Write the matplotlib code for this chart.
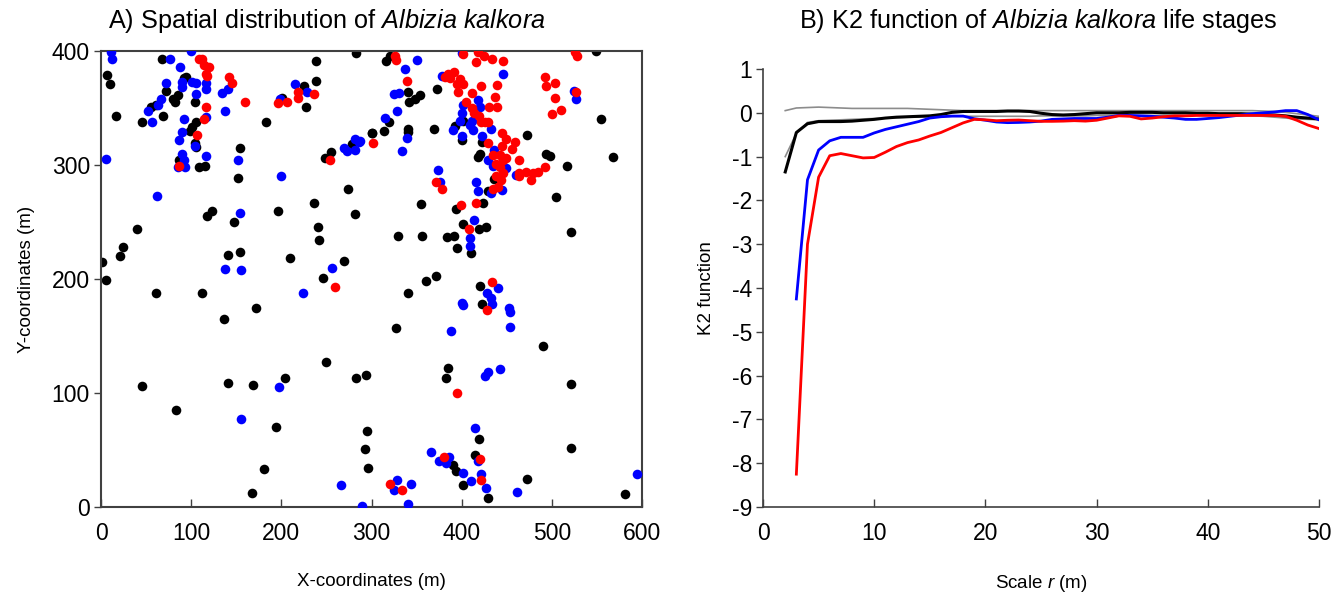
import matplotlib
matplotlib.use("Agg")
import matplotlib.pyplot as plt
import numpy as np

plt.rcParams['font.family'] = ['Liberation Sans', 'DejaVu Sans']
plt.rcParams['mathtext.fontset'] = 'custom'
plt.rcParams['mathtext.rm'] = 'Liberation Sans'
plt.rcParams['mathtext.it'] = 'Liberation Sans:italic'
plt.rcParams['axes.unicode_minus'] = False

# ---------------- Panel A data (x, y in m) ----------------
black_x = [68,7,10,92,94,72,85,80,82,104,61,56,69,17,45,105,101,99,104,105,86,109,115,154,152,183,238,238,225,227,201,283,300,278,255,248,274,236,196,282,123,118,
           549,316,320,341,348,342,354,373,301,314,319,340,341,369,393,402,400,422,418,420,472,493,498,517,554,568,505,436,429,424,355,394,
           40,24,21,1,6,61,112,147,141,154,241,242,210,269,246,329,356,360,372,341,384,391,395,401,419,427,410,420,521,
           172,136,327,423,490,250,283,294,385,383,204,141,169,46,521,83,194,295,293,296,419,415,390,394,402,429,472,521,581,181,167]
black_y = [393,379,371,376,377,365,361,358,355,355,353,351,343,343,338,338,333,330,319,316,304,298,299,315,289,338,391,374,369,351,359,398,328,318,311,306,279,267,260,257,260,255,
           400,391,396,364,358,355,361,367,328,330,338,332,329,332,334,339,322,320,307,310,326,310,308,299,340,307,272,288,277,267,266,261,
           244,228,220,215,199,188,188,250,221,224,246,234,218,216,201,238,238,198,203,188,237,238,227,248,244,246,223,194,241,
           175,165,157,178,141,127,113,116,122,113,113,109,107,106,108,85,70,67,51,34,60,46,37,32,19,8,25,52,11,33,12]

blue_x = [11,12,100,77,88,72,90,90,101,105,116,117,105,66,63,52,57,92,116,134,141,138,90,87,104,90,92,85,93,117,5,152,200,62,154,215,228,199,269,273,282,286,282,
          400,351,337,446,378,325,330,525,527,315,328,339,334,287,401,400,398,409,418,420,412,433,390,400,413,423,429,436,435,449,445,416,418,433,460,374,376,414,
          138,155,256,224,409,409,428,440,433,
          400,402,434,453,454,454,388,426,429,442,197,155,415,366,375,386,383,402,418,421,410,427,461,328,325,344,266,289,341,595]
blue_y = [399,393,400,393,386,372,373,368,373,372,372,367,362,358,353,347,338,340,342,363,367,347,329,322,317,310,304,298,298,308,305,304,290,273,258,371,364,358,315,312,323,320,313,
          398,392,384,380,378,362,363,365,358,341,347,324,312,321,353,346,339,335,357,351,339,332,331,325,331,325,304,313,299,297,278,285,277,275,291,296,285,252,
          209,208,210,188,236,229,188,192,183,
          179,177,178,175,171,158,154,115,118,121,105,77,69,48,40,44,39,30,40,29,23,17,13,24,15,20,19,1,3,29]

red_x = [109,112,114,120,116,118,142,145,160,117,114,106,87,196,206,218,219,236,254,302,
         326,327,401,418,425,434,416,446,526,528,339,385,392,387,398,402,395,396,382,421,439,437,430,439,411,492,504,494,504,500,510,527,
         405,411,414,419,421,426,429,445,449,445,459,456,429,435,442,446,438,442,449,446,438,444,440,435,464,464,471,479,485,492,477,464,371,378,399,416,
         260,408,434,428,395,380,420,421,320,334]
red_y = [393,393,388,386,380,378,377,372,355,351,340,326,299,354,355,364,359,362,304,319,
         396,392,397,399,396,393,390,391,399,396,374,380,382,376,375,371,371,364,377,369,370,360,351,351,363,377,372,369,359,345,348,364,
         355,350,346,343,338,338,338,328,323,317,320,314,319,309,309,304,301,298,306,293,290,287,281,279,304,293,294,293,294,298,287,290,285,279,265,267,
         193,244,197,173,100,44,42,24,20,15]

# ---------------- Panel B data ----------------
r = list(range(2, 51))
gray_upper = [0.05,0.11,0.12,0.13,0.12,0.11,0.10,0.10,0.10,0.10,0.10,0.10,0.09,0.08,0.07,0.06,0.05,
              0.05,0.05,0.05,0.05,0.05,0.05,0.05,0.05,0.05,0.05,0.05,0.05,0.05,0.05,0.05,0.05,0.05,0.05,
              0.05,0.05,0.05,0.05,0.05,0.05,0.05,0.05,0.04,0.03,0.01,-0.02,-0.05,-0.08]
gray_lower = [-1.00,-0.47,-0.22,-0.18,-0.17,-0.16,-0.15,-0.14,-0.13,-0.12,-0.11,-0.10,-0.10,-0.09,-0.09,-0.08,
              -0.08,-0.08,-0.08,-0.08,-0.08,-0.08,-0.08,-0.07,-0.07,-0.07,-0.07,-0.07,-0.06,-0.06,-0.06,-0.06,
              -0.06,-0.06,-0.06,-0.06,-0.06,-0.06,-0.06,-0.06,-0.06,-0.07,-0.07,-0.08,-0.10,-0.12,-0.14,-0.15,-0.16]
black_k2 = [-1.35,-0.45,-0.25,-0.20,-0.20,-0.20,-0.19,-0.17,-0.15,-0.12,-0.10,-0.09,-0.08,-0.07,-0.04,0.01,
            0.03,0.03,0.03,0.03,0.04,0.04,0.03,-0.01,-0.04,-0.05,-0.04,-0.02,0.00,0.00,0.00,0.01,0.01,0.01,
            0.00,0.00,0.00,-0.01,-0.01,-0.02,-0.02,-0.02,-0.03,-0.04,-0.05,-0.07,-0.10,-0.12,-0.14]
r3 = list(range(3, 51))
blue_k2 = [-4.25,-1.53,-0.85,-0.64,-0.56,-0.56,-0.56,-0.46,-0.38,-0.32,-0.26,-0.20,-0.12,-0.09,-0.075,-0.075,
           -0.135,-0.17,-0.21,-0.225,-0.22,-0.21,-0.19,-0.15,-0.14,-0.13,-0.13,-0.13,-0.10,-0.06,-0.06,-0.07,
           -0.08,-0.10,-0.12,-0.15,-0.15,-0.13,-0.11,-0.08,-0.05,-0.02,0.00,0.02,0.05,0.05,-0.04,-0.16]
red_k2 = [-8.25,-3.0,-1.47,-0.98,-0.93,-0.98,-1.03,-1.02,-0.90,-0.77,-0.68,-0.62,-0.53,-0.45,-0.34,-0.23,
          -0.15,-0.16,-0.18,-0.17,-0.165,-0.18,-0.195,-0.195,-0.19,-0.18,-0.19,-0.17,-0.12,-0.07,-0.08,-0.14,
          -0.12,-0.09,-0.07,-0.07,-0.06,-0.06,-0.06,-0.06,-0.06,-0.06,-0.06,-0.06,-0.08,-0.17,-0.28,-0.36]

fig = plt.figure(figsize=(13.44, 5.92), dpi=100)
TICK = 16.5
TITLE = 18.2

# Panel A
axA = fig.add_axes([101/1344, 1-507/592, 541/1344, 456/592])
ms = 48
axA.scatter(black_x, black_y, s=ms, c='black', linewidths=0, zorder=2)
axA.scatter(blue_x, blue_y, s=ms, c='#0000ff', linewidths=0, zorder=3)
axA.scatter(red_x, red_y, s=ms, c='#ff0000', linewidths=0, zorder=4)
axA.set_xlim(0, 600)
axA.set_ylim(0, 400)
axA.set_xticks([0, 100, 200, 300, 400, 500, 600])
axA.set_yticks([0, 100, 200, 300, 400])
for s in axA.spines.values():
    s.set_color('#404040')
    s.set_linewidth(1.5)
axA.tick_params(axis='x', direction='in', length=6, width=1, colors='#404040', labelcolor='black', labelsize=TICK, pad=11)
axA.tick_params(axis='y', direction='out', length=5, width=1, colors='#404040', labelcolor='black', labelsize=TICK, pad=3)
axA.set_xlabel('X-coordinates (m)', fontsize=13.5, labelpad=20)
axA.set_ylabel('Y-coordinates (m)', fontsize=13.5, labelpad=12)
fig.text(108/1344, 1-21/592, r'A) Spatial distribution of $\it{Albizia}$ $\it{kalkora}$',
         fontsize=TITLE, ha='left', va='center')

# Panel B
axB = fig.add_axes([763/1344, 1-507/592, 556/1344, 438/592])
axB.plot(r, gray_upper, color='#8c8c8c', lw=1.2, zorder=2)
axB.plot(r, gray_lower, color='#8c8c8c', lw=1.2, zorder=2)
axB.plot(r, black_k2, color='black', lw=2.2, zorder=3)
axB.plot(r3, blue_k2, color='#0000ff', lw=2.0, zorder=4)
axB.plot(r3, red_k2, color='#ff0000', lw=2.0, zorder=5)
axB.set_xlim(0, 50)
axB.set_ylim(-9, 1)
axB.set_xticks([0, 10, 20, 30, 40, 50])
axB.set_yticks(list(range(-9, 2)))
axB.spines['top'].set_visible(False)
axB.spines['right'].set_visible(False)
for s in ['left', 'bottom']:
    axB.spines[s].set_color('#404040')
    axB.spines[s].set_linewidth(1.2)
axB.tick_params(axis='x', direction='in', length=6, width=1, colors='#404040', labelcolor='black', labelsize=TICK, pad=11)
axB.tick_params(axis='y', direction='out', length=5, width=1, colors='#404040', labelcolor='black', labelsize=TICK, pad=3)
axB.set_xlabel(r'Scale $\it{r}$ (m)', fontsize=13.5, labelpad=20)
axB.set_ylabel('K2 function', fontsize=13.5, labelpad=12)
fig.text(1038/1344, 1-21/592, r'B) K2 function of $\it{Albizia}$ $\it{kalkora}$ life stages',
         fontsize=TITLE, ha='center', va='center')

fig.savefig('out.png', dpi=100)
